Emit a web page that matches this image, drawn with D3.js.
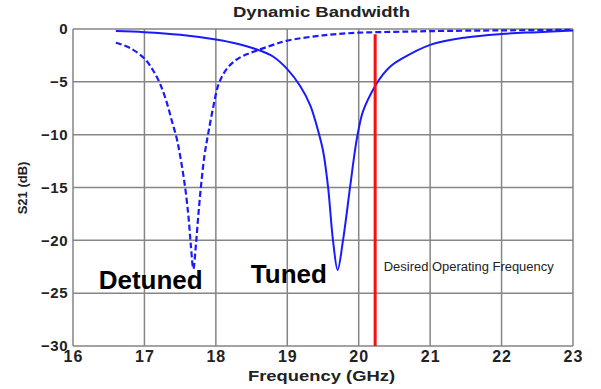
<!DOCTYPE html>
<html>
<head>
<meta charset="utf-8">
<script src="https://cdn.jsdelivr.net/npm/d3@7"></script>
<style>
  body { margin: 0; background: #fff; }
  text { font-family: "Liberation Sans", Arial, sans-serif; }
</style>
</head>
<body>
<div id="chart"></div>
<script>
// chart size
var svgWidth = 601;
var svgHeight = 389;

var margin = { top: 29, right: 28, bottom: 43, left: 73 };
var chartWidth = svgWidth - margin.left - margin.right;
var chartHeight = svgHeight - margin.top - margin.bottom;

// data: [frequency GHz, S21 dB]
var detuned = [
  [16.6, -1.3], [16.8, -1.8], [17.0, -2.8], [17.12, -3.9], [17.22, -5.2],
  [17.31, -6.9], [17.38, -8.6], [17.45, -10.3], [17.5, -12.0], [17.57, -15.0],
  [17.62, -18.0], [17.65, -20.5], [17.685, -22.7], [17.72, -20.5], [17.75, -18.0],
  [17.79, -15.0], [17.84, -12.0], [17.89, -10.0], [17.96, -7.5], [18.04, -5.2],
  [18.15, -3.8], [18.29, -2.9], [18.43, -2.4], [18.59, -2.0], [18.8, -1.5],
  [19.0, -1.1], [19.5, -0.6], [20.0, -0.35], [20.5, -0.27], [21.0, -0.2],
  [22.0, -0.13], [23.0, -0.08]
];

var tuned = [
  [16.6, -0.2], [17.0, -0.3], [17.5, -0.55], [18.0, -1.0], [18.3, -1.4],
  [18.6, -2.0], [18.8, -2.6], [19.0, -3.8], [19.18, -5.4], [19.32, -7.2],
  [19.41, -9.1], [19.5, -11.5], [19.57, -14.9], [19.64, -20.0], [19.705, -22.8],
  [19.78, -20.0], [19.88, -14.9], [19.95, -11.4], [19.99, -9.8], [20.06, -7.8],
  [20.23, -5.4], [20.34, -4.3], [20.45, -3.5], [20.58, -2.9], [21.0, -1.5],
  [21.5, -0.8], [22.0, -0.47], [22.5, -0.3], [23.0, -0.15]
];

var xTicks = [16, 17, 18, 19, 20, 21, 22, 23];
var yTicks = [0, -5, -10, -15, -20, -25, -30];
var desiredFreq = 20.23;
var desiredTop = -0.5;

var svg = d3.select("#chart")
  .append("svg")
  .attr("width", svgWidth)
  .attr("height", svgHeight);

var chartGroup = svg.append("g")
  .attr("transform", `translate(${margin.left}, ${margin.top})`);

var xScale = d3.scaleLinear().domain([16, 23]).range([0, chartWidth]);
var yScale = d3.scaleLinear().domain([-30, 0]).range([chartHeight, 0]);

// grid
chartGroup.append("g")
  .selectAll("line")
  .data(xTicks)
  .enter()
  .append("line")
  .attr("x1", d => xScale(d)).attr("x2", d => xScale(d))
  .attr("y1", 0).attr("y2", chartHeight)
  .attr("stroke", "#858585").attr("stroke-width", 1.5);

chartGroup.append("g")
  .selectAll("line")
  .data(yTicks)
  .enter()
  .append("line")
  .attr("x1", 0).attr("x2", chartWidth)
  .attr("y1", d => yScale(d)).attr("y2", d => yScale(d))
  .attr("stroke", "#858585").attr("stroke-width", 1.5);

// axes (labels only, lines come from grid)
var bottomAxis = d3.axisBottom(xScale).tickValues(xTicks).tickFormat(d3.format("d"))
  .tickSize(0).tickPadding(5);
var leftAxis = d3.axisLeft(yScale).tickValues(yTicks).tickFormat(d3.format("d"))
  .tickSize(0).tickPadding(5);

var xAxisG = chartGroup.append("g")
  .attr("transform", `translate(0, ${chartHeight})`)
  .call(bottomAxis);
xAxisG.select(".domain").remove();
xAxisG.selectAll("text")
  .attr("font-family", "Liberation Sans, Arial, sans-serif")
  .attr("font-size", 16).attr("font-weight", "bold").attr("fill", "#222")
  .attr("letter-spacing", 1);

var yAxisG = chartGroup.append("g").call(leftAxis);
yAxisG.select(".domain").remove();
yAxisG.selectAll("text")
  .attr("font-family", "Liberation Sans, Arial, sans-serif")
  .attr("font-size", 15).attr("font-weight", "bold").attr("fill", "#222")
  .attr("letter-spacing", 0.5);

// curves
var line = d3.line()
  .x(d => xScale(d[0]))
  .y(d => yScale(d[1]))
  .curve(d3.curveCatmullRom.alpha(0.5));

chartGroup.append("path")
  .datum(detuned)
  .attr("d", line)
  .attr("fill", "none")
  .attr("stroke", "#1a1aff")
  .attr("stroke-width", 2.2)
  .attr("stroke-dasharray", "6,3");

chartGroup.append("path")
  .datum(tuned)
  .attr("d", line)
  .attr("fill", "none")
  .attr("stroke", "#1a1aff")
  .attr("stroke-width", 2);

// desired frequency marker
chartGroup.append("line")
  .attr("x1", xScale(desiredFreq)).attr("x2", xScale(desiredFreq))
  .attr("y1", yScale(desiredTop)).attr("y2", chartHeight)
  .attr("stroke", "#ff0d0d").attr("stroke-width", 3);

// labels
svg.append("text")
  .attr("x", 233).attr("y", 17)
  .attr("font-size", 15).attr("font-weight", "bold")
  .attr("textLength", 177).attr("lengthAdjust", "spacingAndGlyphs")
  .attr("fill", "#222")
  .text("Dynamic Bandwidth");

svg.append("text")
  .attr("x", 248).attr("y", 381)
  .attr("font-size", 15).attr("font-weight", "bold")
  .attr("textLength", 147).attr("lengthAdjust", "spacingAndGlyphs")
  .attr("fill", "#222")
  .text("Frequency (GHz)");

svg.append("text")
  .attr("transform", "translate(27, 188) rotate(-90)")
  .attr("text-anchor", "middle")
  .attr("font-size", 13).attr("font-weight", "bold")
  .attr("fill", "#222")
  .text("S21 (dB)");

chartGroup.append("text")
  .attr("x", xScale(16.36)).attr("y", yScale(-24.6))
  .attr("font-size", 26).attr("font-weight", "bold")
  .attr("fill", "#000")
  .text("Detuned");

chartGroup.append("text")
  .attr("x", xScale(18.49)).attr("y", yScale(-24.0))
  .attr("font-size", 26).attr("font-weight", "bold")
  .attr("fill", "#000")
  .text("Tuned");

chartGroup.append("text")
  .attr("x", xScale(20.35)).attr("y", yScale(-22.9))
  .attr("font-family", "Open Sans, sans-serif")
  .attr("font-size", 12)
  .attr("textLength", 170).attr("lengthAdjust", "spacingAndGlyphs")
  .attr("fill", "#222")
  .text("Desired Operating Frequency");
</script>
</body>
</html>
